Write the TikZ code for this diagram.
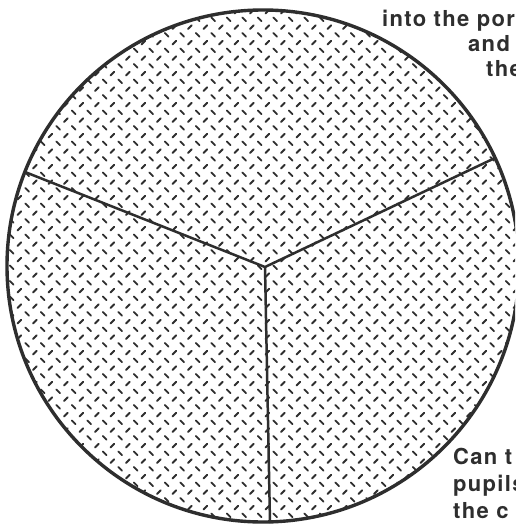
\documentclass[tikz,border=0pt]{standalone}
\usepackage{fontspec}
\newfontfamily\lblfont[LetterSpace=6]{TeX Gyre Heros}
\usetikzlibrary{patterns}
\pgfdeclarepatternformonly{plate}{\pgfpoint{-1pt}{-1pt}}{\pgfpoint{17pt}{17pt}}{\pgfpoint{15.5pt}{15.5pt}}{%
  \pgfsetlinewidth{1.8pt}\pgfsetroundcap
  \pgfpathmoveto{\pgfpoint{2pt}{2pt}}\pgfpathlineto{\pgfpoint{5.8pt}{5.8pt}}%
  \pgfpathmoveto{\pgfpoint{9.75pt}{13.55pt}}\pgfpathlineto{\pgfpoint{13.55pt}{9.75pt}}%
  \pgfusepath{stroke}}
\definecolor{ink}{HTML}{2E2E2E}
\begin{document}
\begin{tikzpicture}[x=1pt,y=-1pt,
  rim/.style={line width=3.4pt,draw=ink},
  spoke/.style={line width=2.5pt,draw=ink},
  lbl/.style={anchor=base west,inner sep=0pt,font=\lblfont\bfseries\fontsize{22}{26}\selectfont,text=ink}]
\useasboundingbox (0,0) rectangle (515,527);
\clip (0,0) rectangle (515,527);
\fill[white] (0,0) rectangle (515,527);
\coordinate (O) at (263,266);
\path[pattern=plate,pattern color=ink] (O) circle[radius=256];
\coordinate (hub) at (265,267);
\coordinate (L) at (25,172);
\coordinate (R) at (495,158);
\coordinate (B) at (270,523);
\draw[spoke] (L) -- (hub) -- (R);
\draw[spoke] (hub) -- (B);
\draw[rim] (O) circle[radius=256];
\node[lbl] (t1) at (382,27) {into the por};
\node[lbl] (t2) at (468,52) {and};
\node[lbl] (t3) at (486,76) {the};
\node[lbl] (t4) at (453,464) {Can t};
\node[lbl] (t5) at (453,491) {pupils};
\node[lbl] (t6) at (453,518) {the c};
\end{tikzpicture}
\end{document}
